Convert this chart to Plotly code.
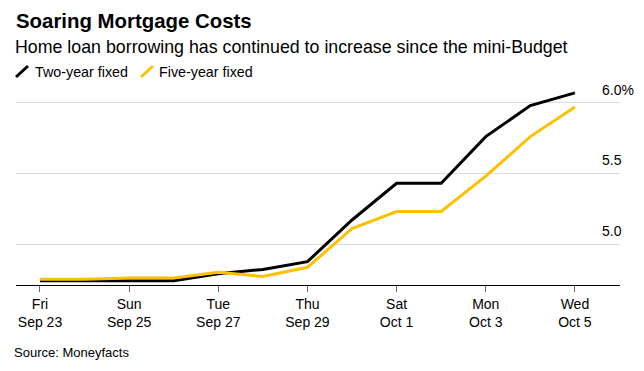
import plotly.graph_objects as go

dates = ["2022-09-23", "2022-09-24", "2022-09-25", "2022-09-26", "2022-09-27",
         "2022-09-28", "2022-09-29", "2022-09-30", "2022-10-01", "2022-10-02",
         "2022-10-03", "2022-10-04", "2022-10-05"]
two_year = [4.74, 4.74, 4.74, 4.74, 4.79, 4.82, 4.875, 5.17, 5.43, 5.43, 5.76, 5.98, 6.07]
five_year = [4.75, 4.75, 4.76, 4.76, 4.80, 4.77, 4.835, 5.11, 5.23, 5.23, 5.48, 5.76, 5.97]

x_tick_vals = ["2022-09-23", "2022-09-25", "2022-09-27", "2022-09-29",
               "2022-10-01", "2022-10-03", "2022-10-05"]
x_tick_text = ["Fri<br>Sep 23", "Sun<br>Sep 25", "Tue<br>Sep 27", "Thu<br>Sep 29",
               "Sat<br>Oct 1", "Mon<br>Oct 3", "Wed<br>Oct 5"]
y_tick_vals = [5.0, 5.5, 6.0]
y_tick_text = ["5.0&nbsp;&nbsp;&nbsp;", "5.5&nbsp;&nbsp;&nbsp;", "6.0%"]

series_names = ["Two-year fixed", "Five-year fixed"]
colors = ["#000000", "#FFC000"]

# page offset (browser body margin)
OFF = 8
PAGE_W, PAGE_H = 644, 371
W, H = PAGE_W - OFF, PAGE_H - OFF
# plot area in page pixels: x 16..620, y 89..285
PL, PR, PT, PB = 16, 620, 89, 285
ML, MR, MT, MB = PL - OFF, PAGE_W - PR, PT - OFF, PAGE_H - PB
PW, PH = PR - PL, PB - PT
FONT = "Liberation Sans, Arial, sans-serif"


def px_x(px):
    return (px - PL) / PW


def px_y(py):
    return (PB - py) / PH


fig = go.Figure()
for name, vals, col in zip(series_names, [two_year, five_year], colors):
    fig.add_trace(go.Scatter(x=dates, y=vals, mode="lines", name=name,
                             line=dict(color=col, width=3), showlegend=False))

annotations = [
    dict(text="<b>Soaring Mortgage Costs</b>", x=px_x(14), y=px_y(21),
         font=dict(size=20.4, color="#000", family=FONT)),
    dict(text="Home loan borrowing has continued to increase since the mini-Budget",
         x=px_x(13), y=px_y(47), font=dict(size=17.8, color="#000", family=FONT)),
    dict(text=series_names[0], x=px_x(33), y=px_y(72),
         font=dict(size=14.3, color="#000", family=FONT)),
    dict(text=series_names[1], x=px_x(157), y=px_y(72),
         font=dict(size=14.3, color="#000", family=FONT)),
    dict(text="Source: Moneyfacts", x=px_x(12), y=px_y(352),
         font=dict(size=13, color="#000", family=FONT)),
]
for a in annotations:
    a.update(xref="paper", yref="paper", xanchor="left", yanchor="middle",
             showarrow=False)

shapes = [
    dict(type="line", xref="paper", yref="paper", x0=px_x(16), y0=px_y(77),
         x1=px_x(28), y1=px_y(66), line=dict(color=colors[0], width=3)),
    dict(type="line", xref="paper", yref="paper", x0=px_x(141), y0=px_y(77),
         x1=px_x(153), y1=px_y(66), line=dict(color=colors[1], width=3)),
]

fig.update_layout(
    width=W, height=H,
    margin=dict(l=ML, r=MR, t=MT, b=MB, autoexpand=False),
    paper_bgcolor="white", plot_bgcolor="white",
    font=dict(family=FONT, size=14, color="#000"),
    annotations=annotations, shapes=shapes,
    xaxis=dict(
        type="date",
        range=["2022-09-22 11:05", "2022-10-06 00:17"],
        tickvals=x_tick_vals, ticktext=x_tick_text,
        ticks="outside", ticklen=6, tickwidth=1, tickcolor="#666",
        showline=True, linecolor="#000", linewidth=1,
        showgrid=False, zeroline=False,
        tickfont=dict(size=14, color="#000", family=FONT),
        fixedrange=True,
    ),
    yaxis=dict(
        range=[4.71, 6.097],
        side="right",
        tickvals=y_tick_vals, ticktext=y_tick_text,
        ticks="", showline=False, zeroline=False,
        showgrid=True, gridcolor="#dcdcdc", gridwidth=1,
        ticklabelposition="outside",
        ticklabelstandoff=-19,
        ticklabelshift=-13,
        tickfont=dict(size=14, color="#000", family=FONT),
        fixedrange=True,
    ),
)

fig.write_html("out.html", config=dict(displayModeBar=False))
